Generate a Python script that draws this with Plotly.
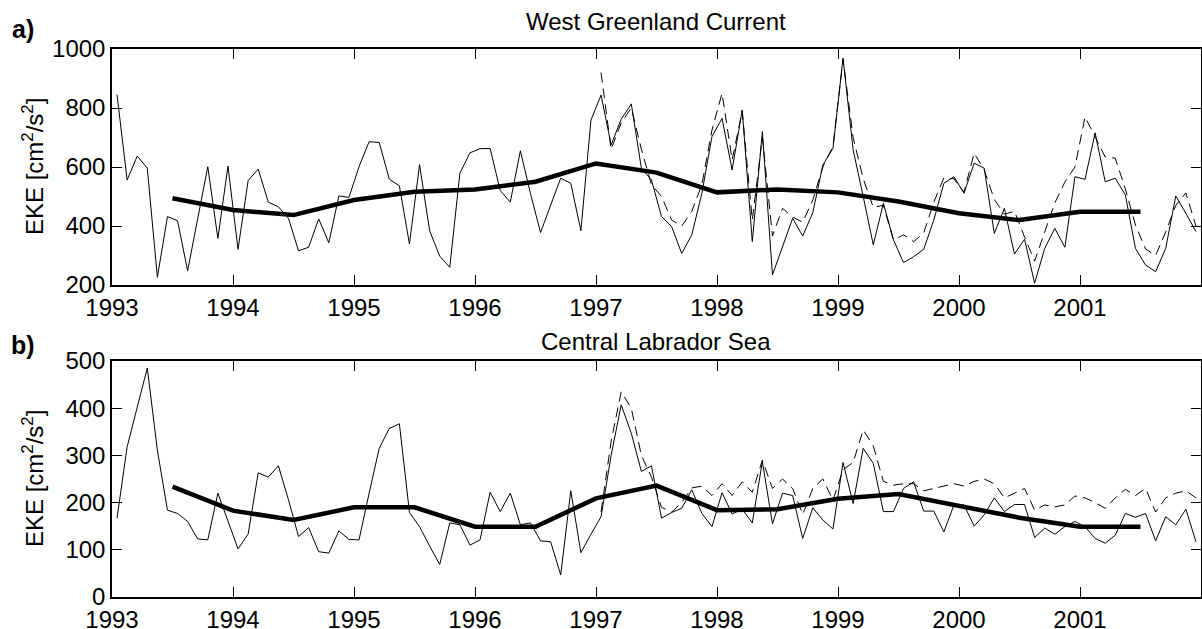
import plotly.graph_objects as go

# Monthly EKE series, mid-month samples from Jan 1993 to Dec 2001
start_year = 1993
n_months = 108
t_month = [start_year + (k + 0.5) / 12 for k in range(n_months)]

# West Greenland Current, solid monthly series
wgc_monthly = [
    845, 556, 637, 596, 226, 432, 418, 248, 425, 601, 358, 603,
    321, 554, 593, 481, 465, 426, 316, 328, 424, 343, 502, 497,
    601, 686, 683, 559, 536, 339, 608, 384, 298, 260, 579, 648,
    662, 663, 520, 481, 655, 510, 378, 471, 562, 545, 384, 759,
    844, 675, 762, 814, 596, 556, 432, 398, 307, 370, 511, 703,
    765, 590, 793, 347, 720, 234, 330, 426, 366, 445, 607, 663,
    969, 658, 500, 336, 477, 353, 276, 296, 321, 420, 545, 567,
    511, 613, 596, 375, 460, 305, 355, 206, 324, 392, 328, 567,
    558, 716, 550, 562, 505, 324, 268, 245, 324, 502, 443, 381,
]
# West Greenland Current, dashed series (from Jan 1997)
wgc_dashed = [
    920, 660, 750, 800, 660, 540, 500, 420, 400, 450, 540, 725,
    850, 624, 790, 420, 700, 366, 460, 430, 413, 488, 600, 670,
    965, 700, 560, 463, 470, 353, 370, 347, 376, 481, 563, 560,
    515, 647, 590, 490, 440, 450, 363, 281, 380, 478, 549, 600,
    770, 700, 634, 630, 525, 403, 322, 300, 380, 470, 512, 400,
]

# Central Labrador Sea, solid monthly series
cls_monthly = [
    167, 318, 402, 485, 311, 184, 177, 160, 123, 121, 220, 161,
    102, 133, 263, 254, 278, 206, 128, 147, 96, 93, 140, 122,
    121, 220, 315, 357, 367, 179, 149, 108, 69, 157, 153, 110,
    121, 222, 181, 220, 153, 157, 119, 117, 47, 225, 94, 133,
    170, 300, 407, 347, 266, 278, 167, 179, 188, 227, 177, 149,
    221, 176, 186, 157, 287, 155, 220, 215, 124, 189, 163, 144,
    285, 198, 315, 283, 181, 181, 230, 244, 182, 182, 138, 195,
    195, 150, 174, 210, 181, 196, 196, 126, 146, 133, 149, 160,
    149, 124, 114, 131, 177, 169, 177, 119, 170, 153, 186, 117,
]
# Central Labrador Sea, dashed series (from Jan 1997)
cls_dashed = [
    180, 330, 435, 400, 300, 254, 190, 180, 200, 231, 235, 215,
    240, 215, 244, 222, 290, 230, 250, 230, 175, 230, 250, 205,
    270, 285, 354, 320, 245, 237, 240, 240, 225, 230, 235, 240,
    235, 245, 250, 240, 210, 220, 230, 184, 195, 191, 195, 214,
    210, 200, 188, 210, 228, 215, 230, 180, 210, 220, 225, 210,
]
dashed_start = 48

# Running yearly means at half-year steps
t_mean = [1993.5, 1994.0, 1994.5, 1995.0, 1995.5, 1996.0, 1996.5, 1997.0, 1997.5,
          1998.0, 1998.5, 1999.0, 1999.5, 2000.0, 2000.5, 2001.0, 2001.5]
wgc_mean = [494, 454, 437, 488, 516, 524, 550, 612, 581, 514, 524, 514, 483, 443, 420, 448, 448]
cls_mean = [234, 183, 163, 190, 190, 149, 149, 209, 236, 184, 186, 208, 218, 194, 168, 149, 149]

year_ticks = [1993, 1994, 1995, 1996, 1997, 1998, 1999, 2000, 2001]
wgc_yticks = [200, 400, 600, 800, 1000]
cls_yticks = [0, 100, 200, 300, 400, 500]

W, H = 1202, 629
FONT = "Liberation Sans, Arial, sans-serif"


def px(x):
    return x / W


def py(y):
    return 1 - y / H


fig = go.Figure()

panels = [
    ("x", "y", wgc_monthly, wgc_dashed, wgc_mean),
    ("x2", "y2", cls_monthly, cls_dashed, cls_mean),
]
for xa, ya, monthly, dashed, mean in panels:
    fig.add_trace(go.Scatter(
        x=t_month[dashed_start:], y=dashed, xaxis=xa, yaxis=ya, mode="lines",
        line=dict(color="black", width=1, dash="10px,6px"), showlegend=False,
    ))
    fig.add_trace(go.Scatter(
        x=t_month, y=monthly, xaxis=xa, yaxis=ya, mode="lines",
        line=dict(color="black", width=1), showlegend=False,
    ))
    fig.add_trace(go.Scatter(
        x=t_mean, y=mean, xaxis=xa, yaxis=ya, mode="lines",
        line=dict(color="black", width=4.5), showlegend=False,
    ))

axis_common = dict(
    showline=True, linecolor="black", linewidth=1.5, mirror="ticks",
    ticks="inside", ticklen=10, tickwidth=1, tickcolor="black",
    showgrid=False, zeroline=False, automargin=False,
    tickfont=dict(family=FONT, size=24, color="black"),
)
xdom = [px(112), px(1201)]

fig.update_layout(
    width=W, height=H,
    margin=dict(l=0, r=0, t=0, b=0),
    paper_bgcolor="white", plot_bgcolor="white",
    xaxis=dict(domain=xdom, anchor="y", range=[1993, 2002],
               tickvals=year_ticks, ticktext=[str(v) for v in year_ticks], **axis_common),
    yaxis=dict(domain=[py(285), py(49)], anchor="x", range=[200, 1000],
               tickvals=wgc_yticks, **axis_common),
    xaxis2=dict(domain=xdom, anchor="y2", range=[1993, 2002],
                tickvals=year_ticks, ticktext=[str(v) for v in year_ticks], **axis_common),
    yaxis2=dict(domain=[py(597), py(361)], anchor="x2", range=[0, 500],
                tickvals=cls_yticks, **axis_common),
)

ann_font = dict(family=FONT, size=24, color="black")
ylabel = "EKE [cm<sup>2</sup>/s<sup>2</sup>]"
annotations = [
    dict(text="West Greenland Current", x=px(656), y=py(22), font=ann_font),
    dict(text="Central Labrador Sea", x=px(656), y=py(341), font=ann_font),
    dict(text="<b>a)</b>", x=px(23), y=py(29), font=dict(family=FONT, size=25, color="black")),
    dict(text="<b>b)</b>", x=px(23), y=py(345), font=dict(family=FONT, size=25, color="black")),
    dict(text=ylabel, x=px(33), y=py(167), textangle=-90,
         font=dict(family=FONT, size=24, color="black")),
    dict(text=ylabel, x=px(33), y=py(479), textangle=-90,
         font=dict(family=FONT, size=24, color="black")),
]
for a in annotations:
    fig.add_annotation(xref="paper", yref="paper", xanchor="center", yanchor="middle",
                       showarrow=False, **a)

fig.write_html("out.html")
